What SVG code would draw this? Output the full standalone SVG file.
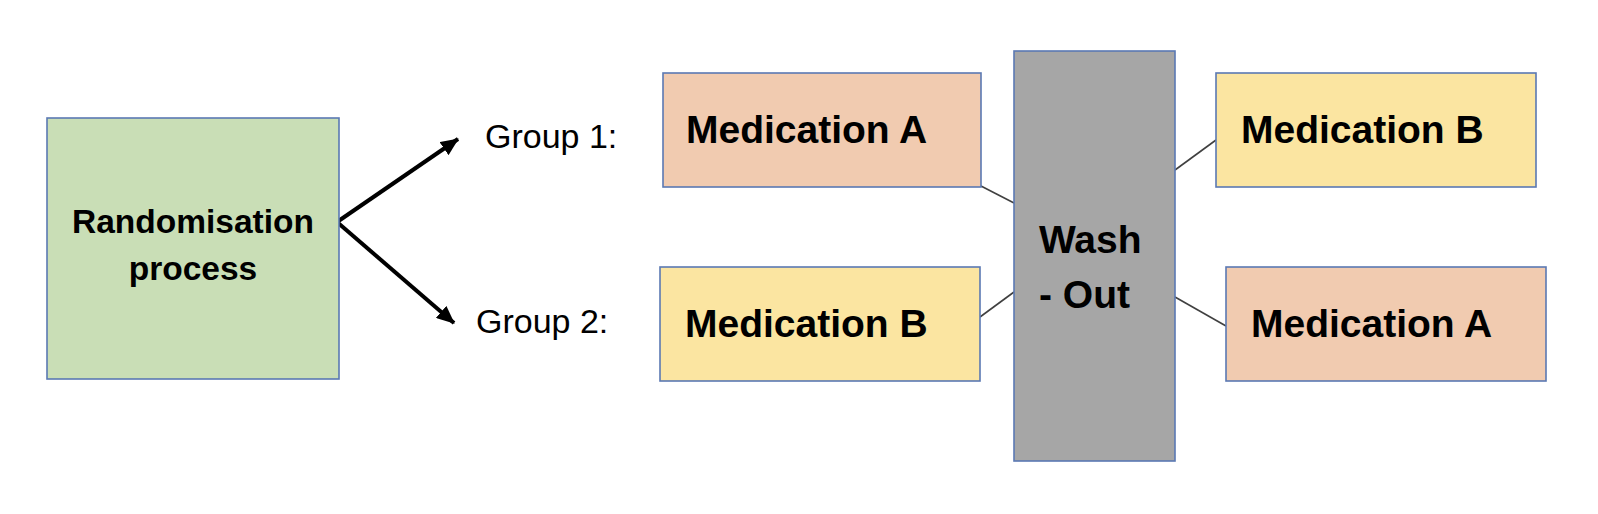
<svg xmlns="http://www.w3.org/2000/svg" width="1598" height="514" viewBox="0 0 1598 514">
  <defs>
    <marker id="arrow" viewBox="0 0 18 16" refX="17" refY="8" markerWidth="18" markerHeight="16" markerUnits="userSpaceOnUse" orient="auto">
      <path d="M0,0 L18,8 L0,16 z" fill="#000"/>
    </marker>
  </defs>
  <style>
    .box { stroke: #5B79B3; stroke-width: 1.6; }
    .green { fill: #C9DEB6; }
    .peach { fill: #F1CBB0; }
    .yellow { fill: #FBE5A1; }
    .gray { fill: #A6A6A6; }
    .bold { font-family: "Liberation Sans", Arial, sans-serif; font-weight: bold; fill: #000; }
    .med { font-size: 39px; }
    .lbl { font-family: "Liberation Sans", Arial, sans-serif; font-size: 34px; fill: #000; }
    .conn { stroke: #404040; stroke-width: 1.6; fill: none; }
    .arr { stroke: #000; stroke-width: 4; fill: none; }
  </style>
  <rect width="1598" height="514" fill="#fff"/>

  <g id="connectors">
    <line class="arr" x1="337" y1="222" x2="458" y2="139" marker-end="url(#arrow)"/>
    <line class="arr" x1="337" y1="222" x2="454" y2="323" marker-end="url(#arrow)"/>
    <line class="conn" x1="981" y1="186" x2="1014" y2="203"/>
    <line class="conn" x1="980" y1="317" x2="1014" y2="292"/>
    <line class="conn" x1="1175" y1="170" x2="1216" y2="140"/>
    <line class="conn" x1="1175" y1="297" x2="1226" y2="326"/>
  </g>

  <g id="randomisation">
    <rect class="box green" x="47" y="118" width="292" height="261"/>
    <text class="bold" font-size="33.5" x="193" y="233" text-anchor="middle">Randomisation</text>
    <text class="bold" font-size="33.5" x="193" y="280" text-anchor="middle">process</text>
  </g>

  <g id="group1-label">
    <text class="lbl" x="485" y="148">Group 1:</text>
  </g>
  <g id="group2-label">
    <text class="lbl" x="476" y="333">Group 2:</text>
  </g>

  <g id="g1-medA">
    <rect class="box peach" x="663" y="73" width="318" height="114"/>
    <text class="bold med" x="686" y="143">Medication A</text>
  </g>
  <g id="g2-medB">
    <rect class="box yellow" x="660" y="267" width="320" height="114"/>
    <text class="bold med" x="685" y="337">Medication B</text>
  </g>

  <g id="washout">
    <rect class="box gray" x="1014" y="51" width="161" height="410"/>
    <text class="bold med" x="1039" y="253">Wash</text>
    <text class="bold med" x="1039" y="308">- Out</text>
  </g>

  <g id="g1-medB">
    <rect class="box yellow" x="1216" y="73" width="320" height="114"/>
    <text class="bold med" x="1241" y="143">Medication B</text>
  </g>
  <g id="g2-medA">
    <rect class="box peach" x="1226" y="267" width="320" height="114"/>
    <text class="bold med" x="1251" y="337">Medication A</text>
  </g>
</svg>
